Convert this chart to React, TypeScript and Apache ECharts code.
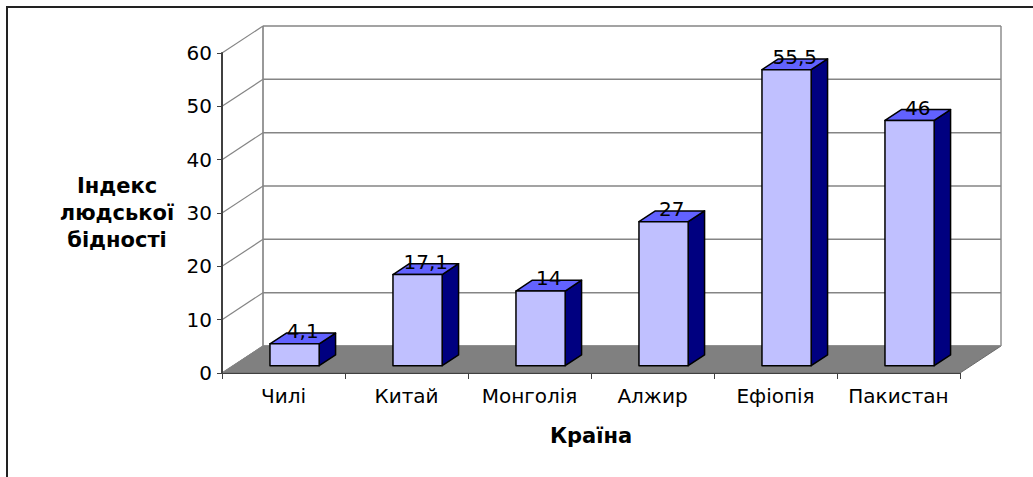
import React, { useEffect, useRef } from "react";
import * as echarts from "echarts";

const categories = ["Чилі", "Китай", "Монголія", "Алжир", "Ефіопія", "Пакистан"];
const values = [4.1, 17.1, 14, 27, 55.5, 46];
const yTicks = [0, 10, 20, 30, 40, 50, 60];
const yTitle = "Індекс\nлюдської\nбідності";
const xTitle = "Країна";

// depth vector of the 3D box (pixels)
const DX = 41;
const DY = -27;

export default function App() {
  const ref = useRef<HTMLDivElement>(null);
  useEffect(() => {
    if (!ref.current) return;
    const chart = echarts.init(ref.current, null, { renderer: "svg" });
    const font = "'DejaVu Sans', sans-serif";
    const option: any = {
      animation: false,
      textStyle: { fontFamily: font },
      grid: { left: 222, top: 53, width: 738, height: 320 },
      xAxis: {
        type: "category",
        data: categories,
        boundaryGap: true,
        axisLine: { show: true, lineStyle: { color: "#404040", width: 1 } },
        axisTick: { show: true, interval: 0, length: 6, lineStyle: { color: "#404040", width: 1 } },
        axisLabel: {
          fontSize: 20,
          color: "#000",
          margin: 13,
          fontFamily: font,
          interval: 0,
          hideOverlap: false,
        },
        splitLine: { show: false },
        name: xTitle,
        nameLocation: "middle",
        nameGap: 63,
        nameTextStyle: {
          fontSize: 21,
          fontWeight: "bold",
          color: "#000",
          verticalAlign: "middle",
          fontFamily: font,
        },
        z: 3,
      },
      yAxis: {
        type: "value",
        min: 0,
        max: 60,
        interval: 10,
        axisLine: { show: true, lineStyle: { color: "#404040", width: 2 } },
        axisTick: { show: true, length: 5, lineStyle: { color: "#404040", width: 1 } },
        axisLabel: { fontSize: 20, color: "#000", margin: 10, fontFamily: font },
        splitLine: { show: false },
        name: yTitle,
        nameLocation: "middle",
        nameGap: 105,
        nameRotate: 0,
        nameTextStyle: {
          fontSize: 21,
          fontWeight: "bold",
          color: "#000",
          align: "center",
          verticalAlign: "middle",
          lineHeight: 27,
          fontFamily: font,
        },
        z: 3,
      },
      series: [
        {
          type: "custom",
          name: "walls",
          z: 1,
          silent: true,
          data: yTicks.map((t) => [0, t]),
          renderItem: (params: any, api: any) => {
            const cs = params.coordSys;
            const t = api.value(1);
            const y = api.coord([0, t])[1];
            const x0 = cs.x;
            const x1 = cs.x + cs.width;
            const yTop = cs.y;
            const gray = "#858585";
            const children: any[] = [];
            if (params.dataIndex === 0) {
              children.push({
                type: "polygon",
                shape: { points: [[x0, y], [x1, y], [x1 + DX, y + DY], [x0 + DX, y + DY]] },
                style: { fill: "#808080", stroke: "#6a6a6a", lineWidth: 1 },
              });
              children.push({
                type: "line",
                shape: { x1: x0 + DX, y1: yTop + DY, x2: x0 + DX, y2: y + DY },
                style: { stroke: "#999", lineWidth: 2 },
              });
              children.push({
                type: "line",
                shape: { x1: x1 + DX, y1: yTop + DY, x2: x1 + DX, y2: y + DY },
                style: { stroke: "#aaa", lineWidth: 2 },
              });
            }
            children.push({
              type: "line",
              shape: { x1: x0 + DX, y1: y + DY, x2: x1 + DX, y2: y + DY },
              style: { stroke: gray, lineWidth: 1.5 },
            });
            children.push({
              type: "line",
              shape: { x1: x0, y1: y, x2: x0 + DX, y2: y + DY },
              style: { stroke: gray, lineWidth: 1.2 },
            });
            return { type: "group", children };
          },
        },
        {
          type: "custom",
          name: "bars",
          z: 2,
          data: values.map((v, i) => [i, v]),
          renderItem: (params: any, api: any) => {
            const i = api.value(0);
            const v = api.value(1);
            const base = api.coord([i, 0]);
            const top = api.coord([i, v]);
            const bw = api.size([1, 0])[0] * 0.4;
            const ox = DX * 0.27;
            const oy = DY * 0.27;
            const dx = DX * 0.4;
            const dy = DY * 0.4;
            const xl = base[0] - bw / 2 + ox;
            const xr = xl + bw;
            const yb = base[1] + oy;
            const yt = top[1] + oy;
            const stroke = { stroke: "#000", lineWidth: 1.5, lineJoin: "round" };
            return {
              type: "group",
              children: [
                {
                  type: "polygon",
                  shape: { points: [[xr, yt], [xr + dx, yt + dy], [xr + dx, yb + dy], [xr, yb]] },
                  style: { fill: "#000080", ...stroke },
                },
                {
                  type: "polygon",
                  shape: { points: [[xl, yt], [xr, yt], [xr + dx, yt + dy], [xl + dx, yt + dy]] },
                  style: { fill: "#6262FF", ...stroke },
                },
                {
                  type: "rect",
                  shape: { x: xl, y: yt, width: bw, height: yb - yt },
                  style: { fill: "#C0C0FF", ...stroke },
                },
                {
                  type: "text",
                  x: (xl + xr) / 2 + dx / 2,
                  y: yt + dy - 2,
                  style: {
                    text: String(v).replace(".", ","),
                    fontSize: 20,
                    fontFamily: font,
                    fill: "#000",
                    align: "center",
                    verticalAlign: "middle",
                  },
                },
              ],
            };
          },
        },
      ],
      graphic: [
        {
          type: "line",
          shape: { x1: 6, y1: 7, x2: 1033, y2: 7 },
          style: { stroke: "#222", lineWidth: 2 },
        },
        {
          type: "line",
          shape: { x1: 7, y1: 6, x2: 7, y2: 477 },
          style: { stroke: "#222", lineWidth: 2 },
        },
      ],
    };
    chart.setOption(option);
    return () => chart.dispose();
  }, []);
  return (
    <div
      ref={ref}
      style={{ position: "fixed", left: 0, top: 0, width: 1033, height: 477, background: "#fff" }}
    />
  );
}
